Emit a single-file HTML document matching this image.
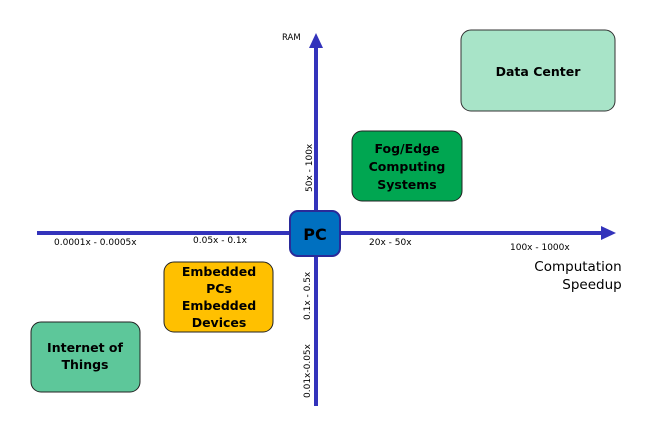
<!DOCTYPE html>
<html><head><style>
body{margin:0;background:#fff;width:646px;height:436px;overflow:hidden;font-family:"DejaVu Sans","Liberation Sans",sans-serif}
</style></head><body>
<svg width="646" height="436" xmlns="http://www.w3.org/2000/svg" font-family="DejaVu Sans, Liberation Sans, sans-serif">
<line x1="37" y1="233" x2="604" y2="233" stroke="#3333bb" stroke-width="4"/>
<polygon points="616,233 601,226 601,240" fill="#3333bb"/>
<line x1="316" y1="406" x2="316" y2="45" stroke="#3333bb" stroke-width="4"/>
<polygon points="316,33 309,48 323,48" fill="#3333bb"/>
<rect x="461" y="30" width="154" height="81" rx="10" fill="#a8e4c8" stroke="#333" stroke-width="1"/>
<text x="538" y="76" font-size="12.5" font-weight="bold" text-anchor="middle">Data Center</text>
<rect x="352" y="131" width="110" height="70" rx="10" fill="#00a651" stroke="#222" stroke-width="1"/>
<text font-size="12.5" font-weight="bold" text-anchor="middle"><tspan x="407" y="153">Fog/Edge</tspan><tspan x="407" y="171">Computing</tspan><tspan x="407" y="189">Systems</tspan></text>
<rect x="164" y="262" width="109" height="70" rx="10" fill="#ffc000" stroke="#222" stroke-width="1"/>
<text font-size="12.5" font-weight="bold" text-anchor="middle"><tspan x="219" y="276">Embedded</tspan><tspan x="219" y="293">PCs</tspan><tspan x="219" y="310">Embedded</tspan><tspan x="219" y="327">Devices</tspan></text>
<rect x="31" y="322" width="109" height="70" rx="10" fill="#5dc79a" stroke="#222" stroke-width="1"/>
<text font-size="12.5" font-weight="bold" text-anchor="middle"><tspan x="85" y="352">Internet of</tspan><tspan x="85" y="369">Things</tspan></text>
<rect x="290" y="211" width="50" height="45" rx="8" fill="#0070c0" stroke="#2a2a99" stroke-width="2"/>
<text x="315" y="240" font-size="16" font-weight="bold" text-anchor="middle">PC</text>
<text x="282" y="40" font-size="8.5">RAM</text>
<g font-size="9">
<text x="54" y="245">0.0001x - 0.0005x</text>
<text x="193" y="243">0.05x - 0.1x</text>
<text x="369" y="245">20x - 50x</text>
<text x="510" y="250">100x - 1000x</text>
<text transform="translate(312,192) rotate(-90)">50x - 100x</text>
<text transform="translate(310,320) rotate(-90)">0.1x - 0.5x</text>
<text transform="translate(310,398) rotate(-90)">0.01x-0.05x</text>
</g>
<text font-size="13.5" text-anchor="middle"><tspan x="578" y="271">Computation</tspan><tspan x="592" y="289">Speedup</tspan></text>
</svg>
</body></html>
